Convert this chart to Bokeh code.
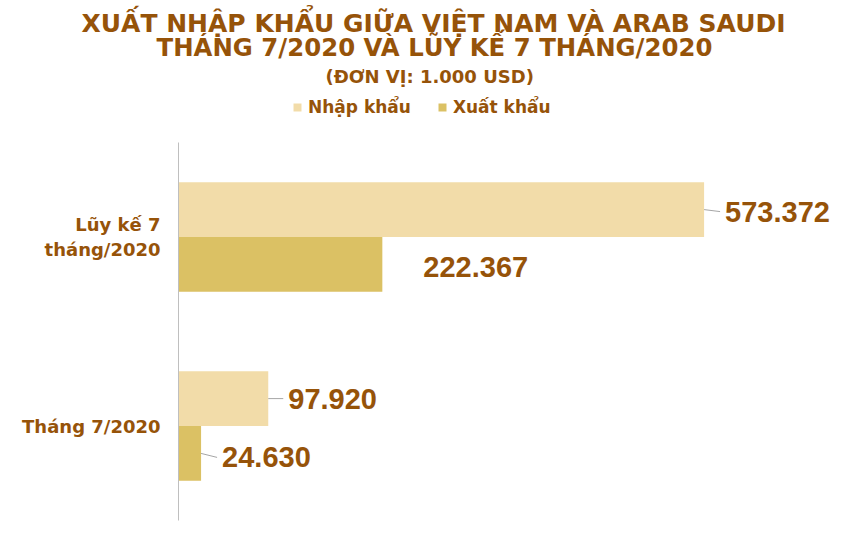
from bokeh.plotting import figure
from bokeh.models import (ColumnDataSource, Range1d, Title, FixedTicker,
                          Legend, LegendItem)
from bokeh.core.properties import value
from bokeh.embed import file_html
from bokeh.resources import INLINE

# du lieu (don vi: 1.000 USD)
categories = ["Lũy kế 7\ntháng/2020", "Tháng 7/2020"]
series = ["Nhập khẩu", "Xuất khẩu"]
nhap_khau = [573372, 97920]
xuat_khau = [222367, 24630]

title_lines = ["XUẤT NHẬP KHẨU GIỮA VIỆT NAM VÀ ARAB SAUDI",
               "THÁNG 7/2020 VÀ LŨY KẾ 7 THÁNG/2020"]
unit_line = "(ĐƠN VỊ: 1.000 USD)"

BROWN = "#965309"
LIGHT = "#F2DCA9"
DARK = "#DBC164"

W, H = 839, 541
LEFT, TOP = 178, 96          # khung ve (gom ca cho chu giai)
AXIS_TOP, AXIS_BOTTOM = 142, 520
FRAME_W = 660
X_MAX = 720000
BAR_H = 0.29
BAR_OFF = 0.145


def fmt(v):
    return f"{v:,}".replace(",", ".")


# vi tri nhom: tu duoi len tren, moi nhom rong 1 don vi
n = len(categories)
y_center = [n - 1 - i + 0.5 for i in range(n)]
px_per_unit = (AXIS_BOTTOM - AXIS_TOP) / n
y_top = n + (AXIS_TOP - TOP) / px_per_unit

p = figure(width=W, height=H,
           y_range=Range1d(0, y_top),
           x_range=Range1d(0, X_MAX),
           x_axis_location=None,
           output_backend="svg", toolbar_location=None,
           min_border_left=LEFT, min_border_right=W - LEFT - FRAME_W,
           min_border_top=TOP, min_border_bottom=H - AXIS_BOTTOM)
p.outline_line_color = None
p.xgrid.grid_line_color = None
p.ygrid.grid_line_color = None

ax = p.yaxis[0]
ax.ticker = FixedTicker(ticks=y_center, minor_ticks=[])
ax.major_label_overrides = {y: c for y, c in zip(y_center, categories)}
ax.bounds = (0, n)
ax.axis_line_color = "#BFBFBF"
ax.major_tick_line_color = None
ax.minor_tick_line_color = None
ax.major_tick_out = 0
ax.major_tick_in = 0
ax.major_label_standoff = 18
ax.major_label_text_font = "DejaVu Sans"
ax.major_label_text_font_style = "bold"
ax.major_label_text_font_size = "18px"
ax.major_label_text_color = BROWN
ax.major_label_text_line_height = 1.2

# do lech nhan so lieu (pixel): [nhap khau, xuat khau] theo tung nhom
nk_dx, nk_dy = [21, 20], [2, 0]
xk_dx, xk_dy = [41, 21], [3, 4]
xk_leader = [False, True]

units_per_px = X_MAX / FRAME_W

renderers = []
for vals, off, color, dx, dy, leader in [
        (nhap_khau, BAR_OFF, LIGHT, nk_dx, nk_dy, [True, True]),
        (xuat_khau, -BAR_OFF, DARK, xk_dx, xk_dy, xk_leader)]:
    ys = [y + off for y in y_center]
    src = ColumnDataSource(dict(y=ys, val=vals,
                                label=[fmt(v) for v in vals],
                                dx=dx, dy=dy))
    r = p.hbar(y="y", left=0, right="val", height=BAR_H,
               fill_color=color, line_color=None, source=src)
    renderers.append(r)
    p.text(x="val", y="y", text="label", x_offset="dx", y_offset="dy",
           source=src, text_font=value("Liberation Sans"),
           text_font_style="bold", text_font_size="29px",
           text_color=BROWN, text_baseline="middle")

    # duong dan tu thanh den nhan
    x0, x1, y0, y1 = [], [], [], []
    for yc, v, ddx, ddy, ok in zip(ys, vals, dx, dy, leader):
        if not ok:
            continue
        x0.append(v)
        x1.append(v + (ddx - 5) * units_per_px)
        y0.append(yc)
        y1.append(yc - ddy / px_per_unit)
    p.segment(x0=x0, y0=y0, x1=x1, y1=y1, line_color="#A6A6A6", line_width=1)

# chu giai: goc duoi-trai, tinh tu day khung ve
legend = Legend(items=[LegendItem(label=s, renderers=[r])
                       for s, r in zip(series, renderers)],
                orientation="horizontal",
                location=(292 - LEFT, AXIS_BOTTOM - 117),
                glyph_width=10, glyph_height=10, label_standoff=6,
                spacing=26, padding=0, margin=0, label_height=20,
                border_line_color=None, background_fill_alpha=0,
                label_text_font="DejaVu Sans", label_text_font_style="bold",
                label_text_font_size="17px", label_text_color=BROWN)
p.add_layout(legend, "center")

# cac dong tieu de, them tu duoi len tren
for txt, size, x_left, standoff in [(unit_line, "18px", 325, 19),
                                    (title_lines[1], "24.4px", 156, -14),
                                    (title_lines[0], "25px", 81, 0)]:
    p.add_layout(Title(text=txt, align="left", offset=x_left - LEFT,
                       standoff=standoff, text_font="DejaVu Sans",
                       text_font_style="bold", text_font_size=size,
                       text_color=BROWN), "above")

open("out.html", "w").write(file_html(p, INLINE))
